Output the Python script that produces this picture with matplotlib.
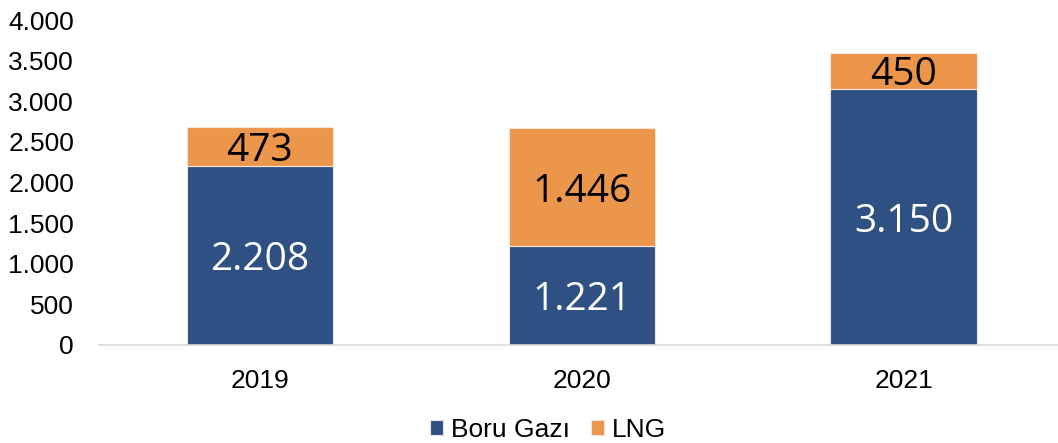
import matplotlib.pyplot as plt

years = ['2019', '2020', '2021']
boru_gazi = [2208, 1221, 3150]
lng = [473, 1446, 450]
boru_labels = ['2.208', '1.221', '3.150']
lng_labels = ['473', '1.446', '450']
yticks = [0, 500, 1000, 1500, 2000, 2500, 3000, 3500, 4000]
ytick_labels = ['0', '500', '1.000', '1.500', '2.000', '2.500', '3.000', '3.500', '4.000']

blue = '#2F5083'
orange = '#EC964C'

plt.rcParams['font.family'] = ['Liberation Sans', 'DejaVu Sans']

fig = plt.figure(figsize=(10.58, 4.43), dpi=100)
ax = fig.add_axes([99/1058, 98/443, 959/1058, 325/443])

x = list(range(len(years)))
b1 = ax.bar(x, boru_gazi, width=0.455, color=blue, edgecolor='#E6E9F0', linewidth=0.8, label='Boru Gazı')
b2 = ax.bar(x, lng, width=0.455, bottom=boru_gazi, color=orange, edgecolor='#F5E6D8', linewidth=0.8, label='LNG')

lab_font = ['Open Sans', 'DejaVu Sans']
for i in x:
    ax.text(i, boru_gazi[i] / 2, boru_labels[i], ha='center', va='center_baseline',
            color='white', fontsize=28, family=lab_font)
    ax.text(i, boru_gazi[i] + lng[i] / 2, lng_labels[i], ha='center', va='center_baseline',
            color='black', fontsize=28, family=lab_font, fontweight='medium')

ax.set_xlim(-0.5, 2.48)
ax.set_ylim(0, 4000)
ax.set_xticks(x)
ax.set_xticklabels(years, fontsize=19)
ax.set_yticks(yticks)
ax.set_yticklabels(ytick_labels, fontsize=19)
ax.tick_params(length=0)
ax.tick_params(axis='x', pad=17)
ax.tick_params(axis='y', pad=18)
for s in ['top', 'right', 'left']:
    ax.spines[s].set_visible(False)
ax.spines['bottom'].set_color('#D9D9D9')
ax.spines['bottom'].set_linewidth(1.2)

fig.legend(handles=[b1, b2], loc='center', bbox_to_anchor=(548/1058, 13/443),
           ncol=2, frameon=False, fontsize=19, handlelength=0.5, handleheight=0.5,
           handletextpad=0.3, columnspacing=0.8)

fig.savefig('out.png', dpi=100)
